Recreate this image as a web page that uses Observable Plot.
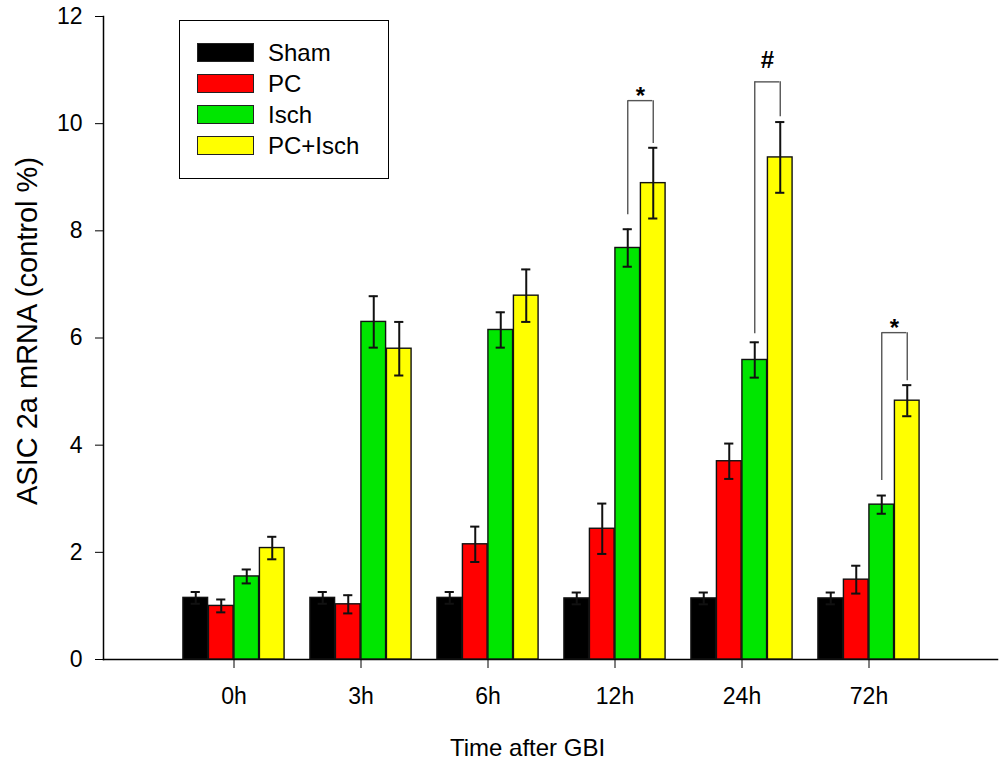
<!DOCTYPE html>
<html>
<head>
<meta charset="utf-8">
<script src="https://cdn.jsdelivr.net/npm/d3@7"></script>
<script src="https://cdn.jsdelivr.net/npm/@observablehq/plot@0.6"></script>
<style>
  body { margin: 0; background: #fff; font-family: "Liberation Sans", Arial, sans-serif; }
  #chart { position: relative; width: 1000px; height: 762px; }
  .legend { position: absolute; left: 179px; top: 20px; width: 210px; height: 159px;
    border: 1.5px solid #000; box-sizing: border-box; padding: 16px 0 0 17px; background: #fff; }
  .legend .row { display: flex; align-items: center; height: 31px; font-size: 24px; color: #000; }
  .legend .sw { width: 57px; height: 19px; border: 1.3px solid #222; box-sizing: border-box; margin-right: 14px; }
</style>
</head>
<body>
<div id="chart"></div>
<script>
// data
const times = ["0h", "3h", "6h", "12h", "24h", "72h"];
const groups = ["Sham", "PC", "Isch", "PC+Isch"];
const colors = ["#000000", "#ff0000", "#00e600", "#ffff00"];

const sham      = [1.15, 1.15, 1.15, 1.14, 1.14, 1.14];
const shamErr   = [0.11, 0.11, 0.11, 0.11, 0.11, 0.11];
const pc        = [1.00, 1.03, 2.15, 2.44, 3.70, 1.49];
const pcErr     = [0.12, 0.17, 0.33, 0.47, 0.33, 0.26];
const isch      = [1.55, 6.30, 6.15, 7.68, 5.59, 2.89];
const ischErr   = [0.13, 0.48, 0.33, 0.35, 0.33, 0.17];
const pcIsch    = [2.08, 5.80, 6.79, 8.89, 9.37, 4.83];
const pcIschErr = [0.21, 0.50, 0.49, 0.66, 0.66, 0.29];

const yTicks = [0, 2, 4, 6, 8, 10, 12];

// significance brackets (Isch vs PC+Isch)
const brTimes = ["12h", "24h", "72h"];
const brLeft  = [8.30, 6.08, 3.34];
const brRight = [9.63, 10.13, 5.20];
const brTop   = [10.43, 10.78, 6.10];
const brMark  = ["*", "#", "*"];

const values = [sham, pc, isch, pcIsch];
const errs = [shamErr, pcErr, ischErr, pcIschErr];

const rows = times.flatMap((t, j) => groups.map((g, i) => ({
  time: t, group: g, value: values[i][j], err: errs[i][j]
})));
const brackets = brTimes.map((t, k) => ({
  time: t, left: brLeft[k], right: brRight[k], top: brTop[k], mark: brMark[k]
}));

const xRange = [167, 934];
const step = (xRange[1] - xRange[0]) / times.length;
const barW = 25.5;
const capW = 10;
const off = i => (i - 1.5) * barW;   // bar centre relative to band centre

let marks = [
  Plot.frame({anchor: "left", stroke: "#000", strokeWidth: 1.5}),
  Plot.frame({anchor: "bottom", stroke: "#000", strokeWidth: 1.5})
];

groups.forEach((g, i) => {
  const sub = rows.filter(d => d.group === g);
  marks.push(Plot.barY(sub, {
    x: "time", y: "value", fill: colors[i], stroke: "#111", strokeWidth: 1.4,
    insetLeft: step / 2 + off(i) - barW / 2,
    insetRight: step / 2 - off(i) - barW / 2
  }));
});

groups.forEach((g, i) => {
  const sub = rows.filter(d => d.group === g);
  const caps = {
    x: "time", stroke: "#111", strokeWidth: 2,
    insetLeft: step / 2 + off(i) - capW / 2,
    insetRight: step / 2 - off(i) - capW / 2
  };
  marks.push(
    Plot.ruleX(sub, {x: "time", y1: d => d.value - d.err, y2: d => d.value + d.err,
      dx: off(i), stroke: "#111", strokeWidth: 2}),
    Plot.tickY(sub, {...caps, y: d => d.value + d.err}),
    Plot.tickY(sub, {...caps, y: d => d.value - d.err})
  );
});

// brackets
marks.push(
  Plot.ruleX(brackets, {x: "time", y1: "left", y2: "top", dx: off(2), stroke: "#555", strokeWidth: 1.4}),
  Plot.ruleX(brackets, {x: "time", y1: "right", y2: "top", dx: off(3), stroke: "#555", strokeWidth: 1.4}),
  Plot.tickY(brackets, {x: "time", y: "top", stroke: "#555", strokeWidth: 1.4,
    insetLeft: step / 2 + off(2), insetRight: step / 2 - off(3)}),
  Plot.text(brackets.filter(d => d.mark === "*"), {x: "time", y: "top", text: "mark",
    dx: (off(2) + off(3)) / 2, dy: -4, fontSize: 24, fontWeight: "bold", lineAnchor: "middle"}),
  Plot.text(brackets.filter(d => d.mark === "#"), {x: "time", y: "top", text: "mark",
    dx: (off(2) + off(3)) / 2, dy: -22, fontSize: 24, fontWeight: "bold", lineAnchor: "middle"})
);

// axes and axis titles
marks.push(
  Plot.axisY({ticks: yTicks, tickSize: 8, tickPadding: 13, fontSize: 23, label: null}),
  Plot.axisX({tickSize: 9, tickPadding: 19, fontSize: 23, label: null}),
  Plot.text(["ASIC 2a mRNA (control %)"], {frameAnchor: "left", rotate: -90, dx: -76, dy: -7,
    fontSize: 29, lineAnchor: "middle", textAnchor: "middle"}),
  Plot.text(["Time after GBI"], {frameAnchor: "bottom", dx: -23, dy: 89,
    fontSize: 24, lineAnchor: "middle", textAnchor: "middle"})
);

const chart = Plot.plot({
  width: 1000,
  height: 762,
  marginTop: 16,
  marginBottom: 103,
  marginLeft: 103,
  marginRight: 3,
  style: {background: "#fff", color: "#000", fontFamily: "Liberation Sans, Arial, sans-serif"},
  x: {type: "band", domain: times, range: xRange, padding: 0},
  y: {domain: [0, 12]},
  marks
});

const holder = d3.select("#chart");
holder.append(() => chart);

// legend inside the plot area
const legend = holder.append("div").attr("class", "legend");
groups.forEach((g, i) => {
  const row = legend.append("div").attr("class", "row");
  row.append("div").attr("class", "sw").style("background", colors[i]);
  row.append("span").text(g);
});
</script>
</body>
</html>
